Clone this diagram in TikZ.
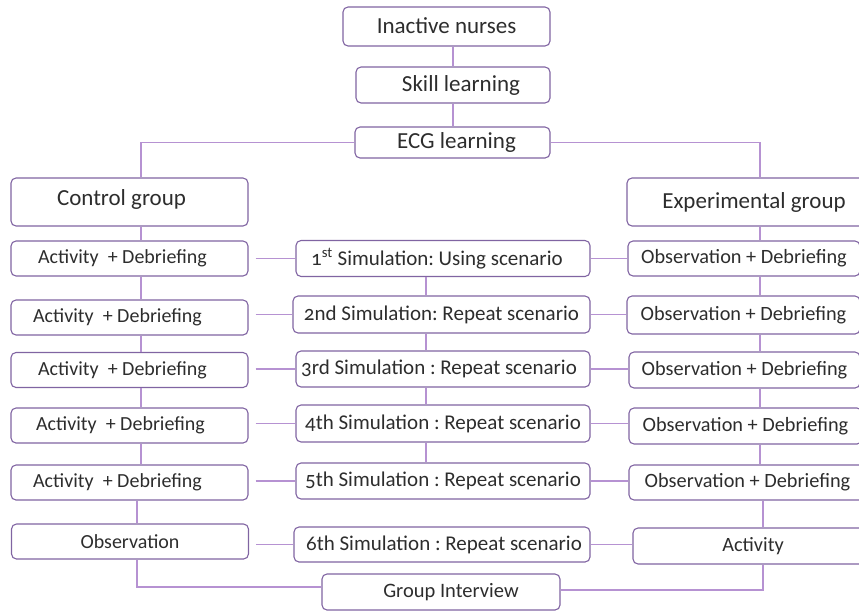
\documentclass[tikz,border=0pt]{standalone}
\usepackage{fontspec}
\setmainfont{Carlito}[Numbers=OldStyle]
\usepackage{xcolor}
\usetikzlibrary{positioning, calc}

\definecolor{boxpurple}{RGB}{128,100,162}
\definecolor{linkpurple}{RGB}{182,146,210}
\definecolor{textgray}{RGB}{45,45,45}
\frenchspacing

\begin{document}
\begin{tikzpicture}[
    x=1pt, y=-1pt,
    block/.style={rectangle, draw=boxpurple, line width=1.1pt, rounded corners=5pt, text=textgray, inner sep=0pt, font=\fontsize{20.5}{22}\selectfont},
    bigblock/.style={block, font=\fontsize{23}{26}\selectfont},
    simblock/.style={block, minimum width=294pt, minimum height=36pt, font=\fontsize{21}{23}\selectfont},
    actblock/.style={block, minimum width=237pt, minimum height=35pt, font=\fontsize{20}{22}\selectfont},
    obsblock/.style={block, minimum height=36pt, font=\fontsize{20.3}{22}\selectfont},
    line/.style={draw=linkpurple, line width=1.1pt}
]
    \useasboundingbox (0,0) rectangle (859,611);

    % Nodes
    \node [bigblock, minimum width=207pt, minimum height=39pt] (nurses) at (446.5,26.5) {\raisebox{2pt}{Inactive nurses}};
    \node [bigblock, minimum width=194pt, minimum height=36pt] (skill) at (453,85) {\hspace*{16pt}\raisebox{2pt}{Skill learning}};
    \node [bigblock, minimum width=195pt, minimum height=31pt] (ecg) at (452.5,142.5) {\hspace*{8pt}ECG learning};

    \node [bigblock, minimum width=237pt, minimum height=48pt] (control) at (129.5,202) {\hspace*{-16pt}\raisebox{8pt}{Control group}};
    \node [bigblock, minimum width=254pt, minimum height=48pt] (exper) at (754,202) {\raisebox{-5pt}{Experimental group}};

    % control column
    \node [actblock] (act1) at (129.5,258.5) {\hspace*{-14pt}Activity\ \ + Debriefing};
    \node [actblock] (act2) at (129.5,317.5) {\hspace*{-24pt}Activity\ \ + Debriefing};
    \node [actblock] (act3) at (129.5,370) {\hspace*{-14pt}Activity\ \ + Debriefing};
    \node [actblock] (act4) at (129.5,425.5) {\hspace*{-18pt}Activity\ \ + Debriefing};
    \node [actblock] (act5) at (129.5,482.5) {\hspace*{-24pt}Activity\ \ + Debriefing};
    \node [actblock] (obs) at (130,541.5) {Observation};

    % simulations
    \node [simblock] (sim1) at (443,258.5) {\hspace*{-12pt}1\textsuperscript{st} Simulation: Using scenario};
    \node [simblock, minimum width=297pt, minimum height=37pt] (sim2) at (441.5,314.5) {2nd Simulation: Repeat scenario};
    \node [simblock] (sim3) at (443,369) {\hspace*{-8pt}3rd Simulation : Repeat scenario};
    \node [simblock, minimum height=37pt] (sim4) at (443,423.5) {4th Simulation : Repeat scenario};
    \node [simblock] (sim5) at (443,481) {5th Simulation : Repeat scenario};
    \node [simblock, minimum width=296pt, minimum height=35pt] (sim6) at (442,544.5) {\hspace*{4pt}6th Simulation : Repeat scenario};
    \node [block, minimum width=238pt, minimum height=36pt] (interview) at (441,592) {\hspace*{20pt}Group Interview};

    % experimental column
    \node [obsblock, minimum width=232pt, minimum height=35pt] (ob1) at (744,258.5) {Observation + Debriefing};
    \node [obsblock, minimum width=233pt, minimum height=38pt] (ob2) at (743.5,315) {Observation + Debriefing};
    \node [obsblock, minimum width=231pt] (ob3) at (744.5,370) {Observation + Debriefing};
    \node [obsblock, minimum width=233pt] (ob4) at (745.5,426) {Observation + Debriefing};
    \node [obsblock, minimum width=237pt, minimum height=35pt] (ob5) at (747.5,482.5) {Observation + Debriefing};
    \node [obsblock, minimum width=240pt] (activity) at (753,546) {Activity};

    \coordinate (lx) at (141,0);
    \coordinate (mx) at (426,0);
    \coordinate (rx) at (760,0);

    % Paths
    \path [line] (nurses.south -| skill.north) -- (skill.north);
    \path [line] (skill.south) -- (skill.south |- ecg.north);
    \path [line] (ecg.west) -| (lx |- control.north);
    \path [line] (ecg.east) -| (rx |- exper.north);

    \path [line] (lx |- control.south) -- (lx |- act1.north);
    \foreach \a/\b in {act1/act2, act2/act3, act3/act4, act4/act5}
        \path [line] (lx |- \a.south) -- (lx |- \b.north);
    \path [line] ([xshift=-4pt]lx |- act5.south) -- ([xshift=-4pt]lx |- obs.north);
    \path [line] ([xshift=-4pt]lx |- obs.south) |- ([yshift=5pt]interview.west);

    \foreach \a/\b in {sim1/sim2, sim2/sim3, sim3/sim4, sim4/sim5}
        \path [line] (mx |- \a.south) -- (mx |- \b.north);

    \path [line] (rx |- exper.south) -- (rx |- ob1.north);
    \foreach \a/\b in {ob1/ob2, ob2/ob3, ob3/ob4, ob4/ob5}
        \path [line] (rx |- \a.south) -- (rx |- \b.north);
    \path [line] ([xshift=3pt]rx |- ob5.south) -- ([xshift=3pt]rx |- activity.north);
    \path [line] ([xshift=3pt]rx |- activity.south) |- ([yshift=2pt]interview.east);

    \foreach \a/\b/\c in {act1/sim1/ob1, act2/sim2/ob2, act3/sim3/ob3, act4/sim4/ob4, act5/sim5/ob5, obs/sim6/activity} {
        \path [line] ([xshift=7pt]\a.east |- \b.west) -- (\b.west);
        \path [line] (\b.east) -- (\c.west |- \b.east);
    }

\end{tikzpicture}
\end{document}
